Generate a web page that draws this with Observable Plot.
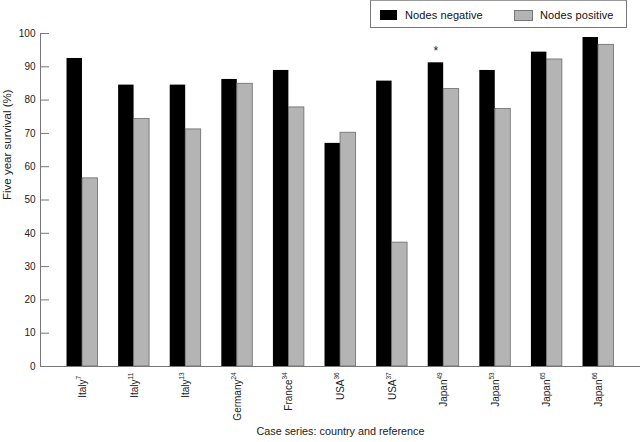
<!DOCTYPE html>
<html>
<head>
<meta charset="utf-8">
<script src="https://cdn.jsdelivr.net/npm/d3@7"></script>
<script src="https://cdn.jsdelivr.net/npm/@observablehq/plot@0.6"></script>
<style>
  html, body { margin: 0; padding: 0; background: #fff; }
  #wrap { position: relative; width: 640px; height: 442px; font-family: "Liberation Sans", Arial, sans-serif; }
  #chart { position: absolute; left: 0; top: 0; }
  #legend { position: absolute; left: 370px; top: 0px; width: 257px; height: 28px; border: 1px solid #777; border-top-color: #999; box-sizing: border-box; background: #fff; font-size: 11px; color: #111; }
  .sw { position: absolute; top: 9px; width: 17px; height: 10px; box-sizing: border-box; }
  .lt { position: absolute; top: 7px; line-height: 14px; letter-spacing: 0.1px; }
</style>
</head>
<body>
<div id="wrap">
  <div id="chart"></div>
  <div id="legend"></div>
</div>
<script>
const countries = ["Italy", "Italy", "Italy", "Germany", "France", "USA", "USA", "Japan", "Japan", "Japan", "Japan"];
const refs = ["7", "11", "13", "24", "34", "36", "37", "49", "53", "65", "66"];
const nodesNegative = [92.5, 84.5, 84.5, 86.2, 88.9, 67.0, 85.7, 91.2, 88.9, 94.4, 98.8];
const nodesPositive = [56.5, 74.3, 71.2, 84.9, 77.8, 70.2, 37.2, 83.3, 77.3, 92.2, 96.6];
const yTicks = [0, 10, 20, 30, 40, 50, 60, 70, 80, 90, 100];
const seriesNames = ["Nodes negative", "Nodes positive"];
const seriesColors = ["#000000", "#b4b4b4"];
const starredKey = "Japan49";

const keys = countries.map((c, i) => c + refs[i]);
const rows = keys.map((k, i) => ({key: k, country: countries[i], ref: refs[i], neg: nodesNegative[i], pos: nodesPositive[i]}));
const starred = rows.filter(d => d.key === starredKey);

const chart = Plot.plot({
  width: 640,
  height: 442,
  marginLeft: 40,
  marginRight: 0,
  marginTop: 33,
  marginBottom: 76,
  style: {fontFamily: "'Liberation Sans', Arial, sans-serif", fontSize: "10px", color: "#222", background: "#fff"},
  x: {domain: keys, paddingInner: 0.4, paddingOuter: 0.514, round: false, axis: null},
  y: {domain: [0, 100]},
  marks: [
    Plot.barY(rows, {x: "key", y: "neg", fill: seriesColors[0], insetRight: 15.5}),
    Plot.barY(rows, {x: "key", y: "pos", fill: seriesColors[1], stroke: "#6a6a6a", strokeWidth: 0.8, insetLeft: 15.5}),
    Plot.frame({anchor: "left", stroke: "#777"}),
    Plot.frame({anchor: "bottom", stroke: "#777"}),
    Plot.axisY({ticks: yTicks, tickSize: -9, tickFormat: () => "", label: null, stroke: "#777"}),
    Plot.axisY({ticks: yTicks, tickSize: 0, tickPadding: 5, fontSize: 10, label: null}),
    Plot.text(["Five year survival (%)"], {text: d => d, frameAnchor: "left", rotate: -90, dx: -33, fontSize: 11.5}),
    Plot.text(rows, {x: "key", text: "country", frameAnchor: "bottom", rotate: -90, textAnchor: "end", dy: 13, dx: 3.5, fontSize: 10}),
    Plot.text(rows, {x: "key", text: "ref", frameAnchor: "bottom", rotate: -90, textAnchor: "start", dy: 13, dx: -1.5, fontSize: 6.5}),
    Plot.text(starred, {x: "key", y: "neg", text: () => "*", dx: -7.75, dy: -12, fontSize: 12}),
    Plot.text(["Case series: country and reference"], {text: d => d, frameAnchor: "bottom", dy: 68, fontSize: 10.8})
  ]
});
document.getElementById("chart").appendChild(chart);

const legend = document.getElementById("legend");
const swX = [9, 143];
const txX = [34, 169];
seriesNames.forEach((name, i) => {
  const sw = document.createElement("div");
  sw.className = "sw";
  sw.style.left = swX[i] + "px";
  sw.style.background = seriesColors[i];
  if (i === 1) { sw.style.border = "1px solid #777"; sw.style.width = "19px"; sw.style.height = "11px"; }
  legend.appendChild(sw);
  const t = document.createElement("div");
  t.className = "lt";
  t.style.left = txX[i] + "px";
  t.textContent = name;
  legend.appendChild(t);
});
</script>
</body>
</html>
